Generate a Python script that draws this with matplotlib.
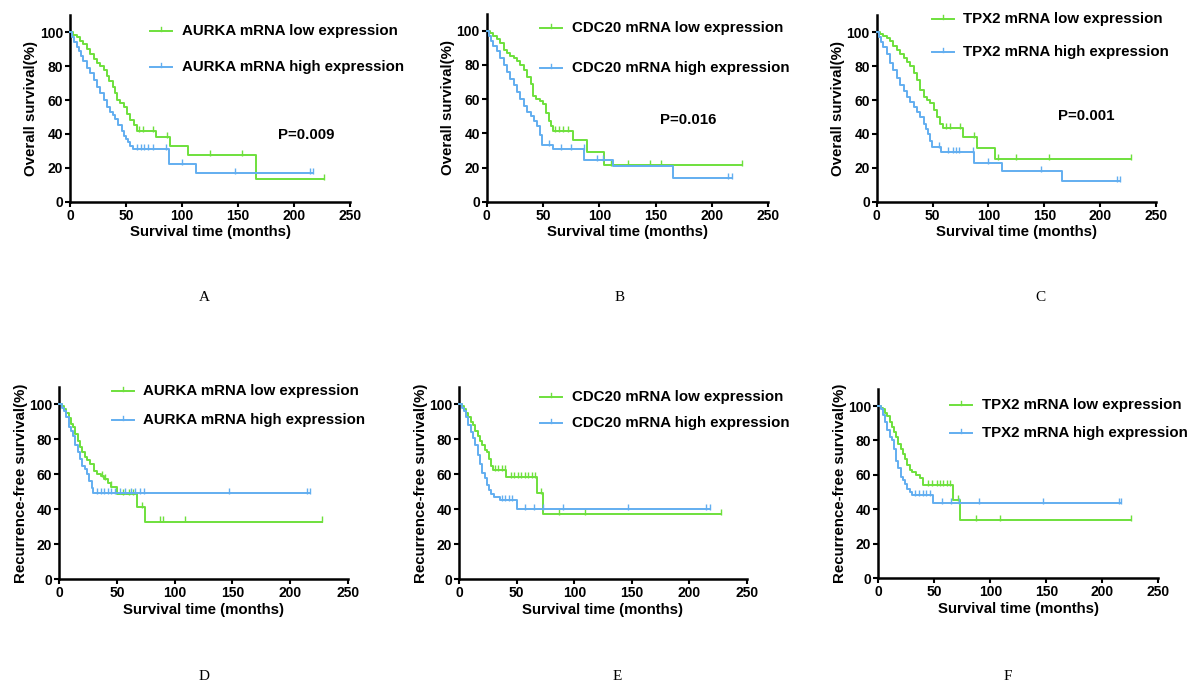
import numpy as np
import matplotlib
matplotlib.use("Agg")
import matplotlib.pyplot as plt
from matplotlib.lines import Line2D

plt.rcParams["font.family"] = ["Liberation Sans", "DejaVu Sans"]

W, H = 1191, 684
GREEN = "#6ee03c"
BLUE = "#62aef0"

# ---- Kaplan-Meier step data (time in months, survival in %) ----
# A: overall survival, AURKA
os_aurka_low_t = [0, 3, 6, 9, 12, 15, 18, 21, 24, 27, 30, 33, 35, 38, 40, 42, 45, 48, 51, 54, 57, 59.5, 77, 89, 105.5, 166]
os_aurka_low_s = [100, 98.5, 97, 95, 93, 90, 87, 84, 82, 80, 78, 74, 71.5, 68, 64, 60, 58, 56, 52, 48, 45, 41.5, 38, 33, 27.5, 13.5]
os_aurka_low_end = 227
os_aurka_low_cens = [62, 65, 74, 87, 125, 154, 227]
os_aurka_high_t = [0, 2, 4, 6, 8, 10, 12, 15, 18, 21, 24, 27, 30, 33, 36, 38, 40, 43, 46, 48, 50, 52, 54, 56.5, 88, 112.5]
os_aurka_high_s = [100, 97, 94, 91.5, 89, 86, 83, 79, 76, 72, 68, 64, 60, 56, 53, 51, 49, 45, 42, 39, 37, 35, 33, 31, 22, 16.8]
os_aurka_high_end = 217
os_aurka_high_cens = [60, 63, 66, 70, 74, 86, 100, 147, 214, 217]

# B: overall survival, CDC20
os_cdc20_low_t = [0, 3, 6, 9, 12, 15, 18, 21, 24, 27, 30, 33, 36, 39, 41.5, 44, 47, 50, 53, 55, 57, 59, 77, 89, 104.5]
os_cdc20_low_s = [100, 98.5, 97, 95, 93, 89, 87, 85, 84, 82.5, 80, 77, 73, 69, 62, 60, 59, 57, 52, 47, 44, 41.5, 36, 29, 21.5]
os_cdc20_low_end = 227
os_cdc20_low_cens = [61, 64, 68, 72, 110, 125, 145, 155, 227]
os_cdc20_high_t = [0, 2, 4, 6, 9, 12, 15, 18, 21, 24, 27, 30, 33, 36, 39, 42, 44.5, 47, 49, 59, 86.5, 112.5, 165.5]
os_cdc20_high_s = [100, 97, 94, 91, 88, 84, 80, 76, 72, 68, 64, 60, 56, 52.5, 50, 47, 44.5, 39, 33.3, 31, 24.5, 21, 13.7]
os_cdc20_high_end = 217.5
os_cdc20_high_cens = [55, 66, 75, 86, 98, 103, 214, 217.5]

# C: overall survival, TPX2
os_tpx2_low_t = [0, 3, 6, 9, 12, 15, 18, 21, 24, 27, 30, 33, 36, 39, 42, 45, 48, 51, 54, 57, 59.5, 77.5, 89.5, 106]
os_tpx2_low_s = [100, 99, 98, 96.5, 95, 92, 89.5, 87, 85, 82.5, 80, 76, 72, 66, 62, 60, 58, 54, 50, 46, 43.3, 38.4, 31.9, 25.2]
os_tpx2_low_end = 228
os_tpx2_low_cens = [62, 66, 75, 87, 109, 125, 154, 228]
os_tpx2_high_t = [0, 2, 4, 6, 9, 12, 15, 18, 21, 24, 27, 30, 33, 36, 39, 42, 44, 46, 48, 49.5, 58, 87.5, 112.5, 166]
os_tpx2_high_s = [100, 97, 94, 91.5, 87, 82, 77.5, 73, 69, 65.5, 62, 59, 56, 53, 50, 46, 43, 40, 36, 32.5, 29.5, 23, 18, 12.2]
os_tpx2_high_end = 218
os_tpx2_high_cens = [56, 64, 68, 71, 74, 86, 100, 147, 215, 218]

# D: recurrence-free survival, AURKA
rfs_aurka_low_t = [0, 2, 4, 6, 8, 10, 12, 14, 16, 18, 20, 22, 24, 27, 30, 33, 36, 39, 42, 45, 47, 50, 67, 74]
rfs_aurka_low_s = [100, 99, 97.5, 95, 92, 89, 87, 83, 79, 75.5, 73, 70, 68, 66, 62, 60, 59, 57.5, 55, 53, 52.5, 48.7, 41.5, 33]
rfs_aurka_low_end = 227.5
rfs_aurka_low_cens = [37, 40, 45, 55, 60, 64, 72, 87, 90, 109, 227.5]
rfs_aurka_high_t = [0, 2, 4, 6, 8, 10, 12, 14, 16, 18, 20, 22, 24, 26, 28, 29.5]
rfs_aurka_high_s = [100, 98, 96, 93, 87, 85, 82, 77, 73, 69, 65, 63, 60, 56, 52, 49.5]
rfs_aurka_high_end = 217.3
rfs_aurka_high_cens = [33, 36, 39, 42, 45, 48, 53, 57, 62, 66, 70, 73, 147, 215, 217.3]

# E: recurrence-free survival, CDC20
rfs_cdc20_low_t = [0, 2, 4, 6, 8, 10, 12, 14, 16, 18, 20, 22, 24, 26, 28, 29.6, 41, 67.3, 73.1]
rfs_cdc20_low_s = [100, 99, 97.5, 95, 92.5, 90, 88, 85, 82, 79, 76.5, 74, 72.5, 69, 65, 62.5, 58.3, 49.1, 37.3]
rfs_cdc20_low_end = 228
rfs_cdc20_low_cens = [31, 34, 37, 40, 45, 48, 51, 54, 57, 60, 63, 66, 71, 87, 109, 228]
rfs_cdc20_high_t = [0, 2, 4, 6, 8, 10, 12, 14, 16, 18, 20, 22, 24, 26, 28, 30, 35, 50]
rfs_cdc20_high_s = [100, 98, 96, 93, 88, 84, 81, 77, 71, 66, 61, 58, 54, 51, 48.5, 47, 45.3, 40]
rfs_cdc20_high_end = 218
rfs_cdc20_high_cens = [37, 40, 43, 46, 57, 65, 73, 90, 147, 215, 218]

# F: recurrence-free survival, TPX2
rfs_tpx2_low_t = [0, 2, 4, 6, 8, 10, 12, 14, 16, 18, 20, 22, 24, 26, 28, 30, 34, 37, 40.2, 67, 73]
rfs_tpx2_low_s = [100, 99, 98, 96, 94, 91, 88, 85, 82, 78, 75, 72, 69, 66, 63, 61.5, 60, 58.5, 54.1, 45.4, 33.8]
rfs_tpx2_low_end = 226
rfs_tpx2_low_cens = [44, 48, 52, 55, 58, 61, 64, 71, 87, 109, 226]
rfs_tpx2_high_t = [0, 2, 4, 6, 8, 10, 12, 14, 16, 18, 20, 22, 24, 26, 28, 29.8, 49]
rfs_tpx2_high_s = [100, 98, 95, 91, 86, 82, 80, 75, 68, 64, 59, 57, 55, 52, 50, 48.3, 43.5]
rfs_tpx2_high_end = 217
rfs_tpx2_high_cens = [33, 36, 40, 43, 46, 57, 65, 72, 90, 147, 215, 217]

genes = ["AURKA", "CDC20", "TPX2"]
p_values = ["P=0.009", "P=0.016", "P=0.001"]
panel_letters = ["A", "B", "C", "D", "E", "F"]

os_curves = [
    ((os_aurka_low_t, os_aurka_low_s, os_aurka_low_end, os_aurka_low_cens),
     (os_aurka_high_t, os_aurka_high_s, os_aurka_high_end, os_aurka_high_cens)),
    ((os_cdc20_low_t, os_cdc20_low_s, os_cdc20_low_end, os_cdc20_low_cens),
     (os_cdc20_high_t, os_cdc20_high_s, os_cdc20_high_end, os_cdc20_high_cens)),
    ((os_tpx2_low_t, os_tpx2_low_s, os_tpx2_low_end, os_tpx2_low_cens),
     (os_tpx2_high_t, os_tpx2_high_s, os_tpx2_high_end, os_tpx2_high_cens)),
]
rfs_curves = [
    ((rfs_aurka_low_t, rfs_aurka_low_s, rfs_aurka_low_end, rfs_aurka_low_cens),
     (rfs_aurka_high_t, rfs_aurka_high_s, rfs_aurka_high_end, rfs_aurka_high_cens)),
    ((rfs_cdc20_low_t, rfs_cdc20_low_s, rfs_cdc20_low_end, rfs_cdc20_low_cens),
     (rfs_cdc20_high_t, rfs_cdc20_high_s, rfs_cdc20_high_end, rfs_cdc20_high_cens)),
    ((rfs_tpx2_low_t, rfs_tpx2_low_s, rfs_tpx2_low_end, rfs_tpx2_low_cens),
     (rfs_tpx2_high_t, rfs_tpx2_high_s, rfs_tpx2_high_end, rfs_tpx2_high_cens)),
]

# axes boxes in pixels: (x at 0, x at 250, y at 0%, y at 100%)
os_boxes = [(70, 350, 201.7, 32.3), (486.7, 768.3, 201.7, 30.7), (876.7, 1156, 201.7, 32.3)]
rfs_boxes = [(59.3, 347.7, 579.3, 404.3), (459.3, 746.7, 579.3, 404.3), (878.3, 1158.3, 578.3, 406)]
# legend anchors: (line start x, text x, low y, high y)
os_legend = [(150, 181.7, 31, 66.7), (540, 571.7, 28.3, 68.3), (931.7, 963.3, 19.3, 51.7)]
rfs_legend = [(111.7, 143.3, 390.7, 420), (540, 571.7, 396.7, 423.3), (950, 981.7, 405, 433.3)]
p_pos = [(306, 135), (688, 120), (1086, 116)]
letter_pos = [(204, 298), (620, 298), (1040, 298), (204, 677), (617, 677), (1008, 677)]


def fx(x):
    return x / W


def fy(y):
    return 1 - y / H


def surv_at(times, surv, t):
    idx = np.searchsorted(times, t, side="right") - 1
    return np.asarray(surv)[idx]


def draw_curve(ax, curve, color):
    times, surv, end, cens = curve
    tt = list(times) + [end]
    ss = list(surv) + [surv[-1]]
    ax.step(tt, ss, where="post", color=color, lw=1.4, clip_on=False, zorder=3)
    ax.plot(cens, surv_at(times, surv, cens) + 1.2, linestyle="none", marker="|",
            ms=4, mew=1.0, color=color, clip_on=False, zorder=3)


def draw_panel(box, curves, ylabel):
    x0, x250, y0, y100 = box
    ppu = (y0 - y100) / 100.0
    top = y0 - 110 * ppu
    ax = fig.add_axes([fx(x0), fy(y0), (x250 - x0) / W, (y0 - top) / H])
    draw_curve(ax, curves[0], GREEN)
    draw_curve(ax, curves[1], BLUE)
    ax.set_xlim(0, 250)
    ax.set_ylim(0, 110)
    ax.set_xticks(np.arange(0, 251, 50))
    ax.set_yticks(np.arange(0, 101, 20))
    for side in ["top", "right"]:
        ax.spines[side].set_visible(False)
    for side in ["left", "bottom"]:
        ax.spines[side].set_linewidth(1.8)
    ax.tick_params(direction="out", length=3.5, width=1.5, pad=1.5, labelsize=10)
    for lab in ax.get_xticklabels() + ax.get_yticklabels():
        lab.set_fontweight("bold")
    ax.set_xlabel("Survival time (months)", fontsize=10.8, fontweight="bold", labelpad=2)
    ax.set_ylabel(ylabel, fontsize=10.8, fontweight="bold", labelpad=1)
    return ax


def draw_legend(anchor, gene):
    lx, tx, y_low, y_high = anchor
    for y, color, label in [(y_low, GREEN, f"{gene} mRNA low expression"),
                            (y_high, BLUE, f"{gene} mRNA high expression")]:
        fig.add_artist(Line2D([fx(lx), fx(lx + 22)], [fy(y), fy(y)], color=color, lw=1.4))
        fig.add_artist(Line2D([fx(lx + 11), fx(lx + 11)], [fy(y), fy(y - 4)], color=color, lw=1.0))
        fig.text(fx(tx), fy(y), label, fontsize=10.8, fontweight="bold",
                 ha="left", va="center")


fig = plt.figure(figsize=(W / 100, H / 100), dpi=100)

for i, gene in enumerate(genes):
    draw_panel(os_boxes[i], os_curves[i], "Overall survival(%)")
    draw_legend(os_legend[i], gene)
    fig.text(fx(p_pos[i][0]), fy(p_pos[i][1]), p_values[i], fontsize=10.8,
             fontweight="bold", ha="center", va="center")

    draw_panel(rfs_boxes[i], rfs_curves[i], "Recurrence-free survival(%)")
    draw_legend(rfs_legend[i], gene)

for letter, (x, y) in zip(panel_letters, letter_pos):
    fig.text(fx(x), fy(y), letter, fontsize=11, family="Liberation Serif",
             ha="center", va="center")

fig.savefig("out.png", dpi=100)
